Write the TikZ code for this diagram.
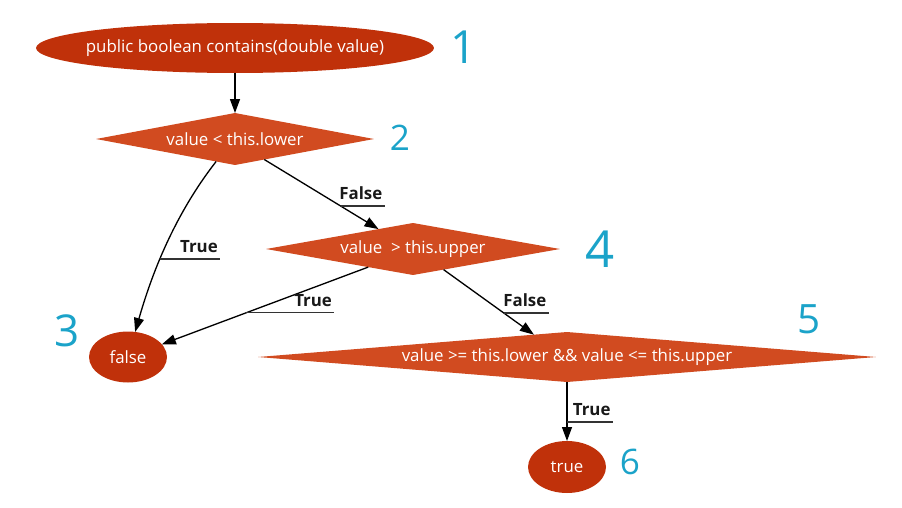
\documentclass[tikz,border=0pt]{standalone}
\usepackage{fontspec}
\setmainfont{Open Sans}
\usetikzlibrary{arrows.meta,shapes.geometric}
\definecolor{Rust}{HTML}{C0310A}
\definecolor{Flame}{HTML}{D14B20}
\definecolor{Ink}{HTML}{1BA3C9}

\begin{document}
\begin{tikzpicture}[x=0.02cm,y=-0.02cm,>={Triangle[length=2.8mm,width=2mm]},
    every node/.style={font=\fontsize{9.6}{11}\selectfont},
    term/.style={ellipse,fill=Rust,text=white,inner sep=0pt,outer sep=0pt},
    test/.style={diamond,fill=Flame,text=white,inner sep=0pt,outer sep=0pt},
    flow/.style={->,line width=0.75pt},
    tag/.style={above left,inner xsep=1pt,inner ysep=3pt,text=black!90,font=\fontsize{9.6}{11}\selectfont\bfseries},
    stepno/.style={text=Ink,inner sep=0pt,font=\fontsize{#1}{#1}\selectfont}]
    \useasboundingbox (0,0) rectangle (902,507);
    \node[term,minimum width=7.96cm,minimum height=1cm,inner xsep=-2mm] (start) at (235,48) {public boolean contains(double value)};
    \node[test,aspect=5.3,minimum width=5.56cm,minimum height=1.04cm] (low) at (235,139) {value < this.lower};
    \node[test,aspect=5.6,minimum width=5.88cm,minimum height=1.04cm] (up) at (413,249) {value\ \ > this.upper};
    \node[test,aspect=12,minimum width=12.36cm,minimum height=1cm] (both) at (567,357) {value >= this.lower \&\& value <= this.upper};
    \node[term,minimum width=1.56cm,minimum height=1.02cm] (no) at (128,357) {false};
    \node[term,minimum width=1.56cm,minimum height=1.04cm] (yes) at (567,467) {true};
    % connectors
    \draw[flow] (start) -- (low);
    \draw[flow] (low.230) .. controls (190,195) and (160,245) .. coordinate[pos=0.68] (t1) (no);
    \draw[flow] (low.325) -- coordinate[pos=0.67] (f1) (up.150);
    \draw[flow] (up.202) -- coordinate[pos=0.59] (t2) (no);
    \draw[flow] (up.326) -- coordinate[pos=0.667] (f2) (both.146);
    \draw[flow] (both) -- coordinate[pos=0.68] (t3) (yes);
    % branch labels
    \draw[black!80,line width=0.9pt] (t1) -- ++(60,0) node[tag] {True};
    \draw[black!80,line width=0.9pt] (f1) -- ++(44,0) node[tag] {False};
    \draw[black!80,line width=0.9pt] (t2) -- ++(88,0) node[tag] {True};
    \draw[black!80,line width=0.9pt] (f2) -- ++(45,0) node[tag] {False};
    \draw[black!80,line width=0.9pt] (t3) -- ++(46,0) node[tag] {True};
    % step numbers
    \node[stepno=26] (n1) at (464,47) {1};
    \node[stepno=20] (n2) at (400,138) {2};
    \node[stepno=25] (n3) at (67,331) {3};
    \node[stepno=29] (n4) at (600,249) {4};
    \node[stepno=23] (n5) at (809,319) {5};
    \node[stepno=20] (n6) at (630,462) {6};
\end{tikzpicture}
\end{document}
